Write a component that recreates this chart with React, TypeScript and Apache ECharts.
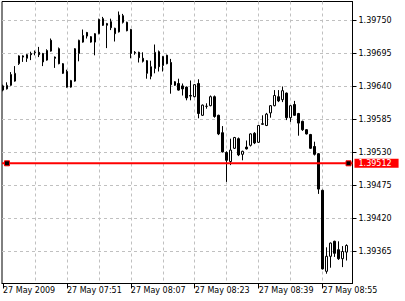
import React, { useEffect, useRef } from 'react';
import * as echarts from 'echarts';

// EURUSD-like M1 candles, 27 May 2009 07:35 .. 09:01 (one candle per minute)
const opens = [
  1.39641, 1.39636, 1.39642, 1.39649, 1.39678, 1.39691, 1.39687, 1.39695, 1.39696, 1.39697,
  1.39695, 1.39684, 1.39717, 1.39689, 1.39703, 1.39678, 1.39665, 1.39639, 1.39649, 1.39695,
  1.39714, 1.3973, 1.39723, 1.39714, 1.39728, 1.39753, 1.39742, 1.39748, 1.39737, 1.39731,
  1.39758, 1.39747, 1.39735, 1.39697, 1.39697, 1.39687, 1.39683, 1.39657, 1.3967, 1.39698,
  1.39675, 1.39692, 1.3968, 1.39642, 1.39645, 1.39641, 1.39639, 1.39625, 1.39623, 1.39645,
  1.39592, 1.39607, 1.39608, 1.39623, 1.39592, 1.39563, 1.3953, 1.39515, 1.39537, 1.39553,
  1.39527, 1.39539, 1.39542, 1.39562, 1.39547, 1.39577, 1.39575, 1.39596, 1.39608, 1.39623,
  1.39618, 1.39629, 1.39588, 1.3961, 1.39595, 1.39582, 1.39568, 1.3956, 1.3954, 1.39528,
  1.39467, 1.39332, 1.39357, 1.39382, 1.39368, 1.39353, 1.39364,
];
const highs = [
  1.39643, 1.39647, 1.39664, 1.39674, 1.39692, 1.39692, 1.39694, 1.39698, 1.397, 1.39706,
  1.39696, 1.39702, 1.3972, 1.3969, 1.39705, 1.39679, 1.39668, 1.39651, 1.39704, 1.39718,
  1.39735, 1.39731, 1.39724, 1.39729, 1.39753, 1.39756, 1.39746, 1.39753, 1.39738, 1.39765,
  1.39761, 1.39748, 1.39736, 1.39699, 1.39698, 1.39697, 1.39684, 1.39683, 1.3971, 1.397,
  1.39691, 1.39693, 1.39686, 1.39649, 1.39653, 1.39645, 1.3964, 1.3965, 1.39644, 1.39652,
  1.3961, 1.39612, 1.39625, 1.39625, 1.39593, 1.39574, 1.39532, 1.39553, 1.39556, 1.39555,
  1.39533, 1.3955, 1.39562, 1.39564, 1.39576, 1.39592, 1.39596, 1.39609, 1.39634, 1.39634,
  1.3964, 1.3963, 1.39609, 1.39616, 1.39596, 1.39583, 1.39569, 1.39561, 1.39548, 1.39529,
  1.39468, 1.39372, 1.3938, 1.39383, 1.39382, 1.39374, 1.39377,
];
const lows = [
  1.39632, 1.39635, 1.39641, 1.39648, 1.39676, 1.39681, 1.39681, 1.39684, 1.39692, 1.39689,
  1.39674, 1.39683, 1.39698, 1.39671, 1.39677, 1.39661, 1.39638, 1.39638, 1.39648, 1.39682,
  1.39713, 1.3972, 1.39713, 1.39692, 1.39727, 1.39741, 1.39704, 1.39734, 1.39715, 1.3973,
  1.39745, 1.39732, 1.39687, 1.39693, 1.3968, 1.3968, 1.39653, 1.39652, 1.39662, 1.39665,
  1.39665, 1.39677, 1.39628, 1.39641, 1.39633, 1.39625, 1.39617, 1.39617, 1.39622, 1.39587,
  1.39591, 1.39603, 1.39607, 1.39588, 1.39559, 1.3953, 1.39481, 1.39509, 1.39536, 1.39524,
  1.39517, 1.39535, 1.3954, 1.39544, 1.39546, 1.39576, 1.39574, 1.39588, 1.39607, 1.39614,
  1.39614, 1.39584, 1.39581, 1.39591, 1.39558, 1.39566, 1.3956, 1.39536, 1.39525, 1.39461,
  1.39335, 1.39328, 1.39338, 1.39356, 1.39351, 1.39339, 1.3935,
];
const closes = [
  1.39634, 1.39642, 1.3966, 1.39662, 1.39691, 1.39689, 1.39693, 1.39693, 1.39697, 1.39693,
  1.39681, 1.397, 1.39699, 1.39687, 1.39678, 1.39662, 1.39639, 1.3965, 1.39703, 1.39717,
  1.39725, 1.39724, 1.39714, 1.39728, 1.39752, 1.39742, 1.39745, 1.39738, 1.39728, 1.39759,
  1.39747, 1.39733, 1.39695, 1.39696, 1.39688, 1.39682, 1.39662, 1.39673, 1.39697, 1.39673,
  1.3969, 1.39678, 1.39643, 1.39648, 1.39634, 1.39636, 1.39621, 1.39624, 1.39643, 1.39595,
  1.39609, 1.39607, 1.39623, 1.3959, 1.39561, 1.39531, 1.39517, 1.39534, 1.39555, 1.39526,
  1.39532, 1.39536, 1.39561, 1.39546, 1.39575, 1.39578, 1.39594, 1.39608, 1.39625, 1.39616,
  1.39633, 1.39588, 1.39608, 1.39592, 1.39579, 1.39568, 1.39561, 1.39537, 1.39527, 1.39469,
  1.39336, 1.39357, 1.39379, 1.39362, 1.39353, 1.39365, 1.39375,
];

const priceTicks = [1.39365, 1.3942, 1.39475, 1.3953, 1.39585, 1.3964, 1.39695, 1.3975];
const priceMin = 1.3931167;
const priceMax = 1.3978167;

const timeTickIdx = [0, 16, 32, 48, 64, 80];
const timeLabels = ['27 May 2009', '27 May 07:51', '27 May 08:07', '27 May 08:23', '27 May 08:39', '27 May 08:55'];
const gridIdx = [8, 16, 24, 32, 40, 48, 56, 64, 72, 80];
const xMin = -0.25;
const xMax = 87.5;

const hLineLevel = 1.39512;
const hLineAnchors = [1, 86.5];

const FONT = 'DejaVu Sans';
const GRID_COLOR = '#c0c0c0';

export default function App() {
  const ref = useRef<HTMLDivElement>(null);

  useEffect(() => {
    if (!ref.current) return;
    const chart = echarts.init(ref.current, null, { renderer: 'svg' });
    const rows = opens.map((o, i) => [i, o, closes[i], lows[i], highs[i]]);

    chart.setOption({
      animation: false,
      backgroundColor: '#ffffff',
      grid: {
        left: 1.5,
        top: 1.5,
        right: 52.5,
        bottom: 17.5,
        show: true,
        borderColor: '#000',
        borderWidth: 1,
        backgroundColor: 'transparent',
      },
      xAxis: [
        {
          type: 'value',
          min: xMin,
          max: xMax,
          position: 'bottom',
          axisLine: { show: true, onZero: false, lineStyle: { color: '#000', width: 1 } },
          axisTick: { show: true, customValues: timeTickIdx, length: 5, lineStyle: { color: '#000', width: 1 } },
          axisLabel: {
            customValues: timeTickIdx,
            formatter: (v: number) => {
              const k = timeTickIdx.indexOf(v);
              return k >= 0 ? timeLabels[k] : '';
            },
            align: 'left',
            margin: 3,
            fontFamily: FONT,
            fontSize: 8,
            color: '#000',
          },
          splitLine: { show: false },
        },
        {
          type: 'value',
          min: xMin,
          max: xMax,
          position: 'bottom',
          axisLine: { show: false },
          axisTick: { show: false, customValues: gridIdx },
          axisLabel: { show: false, customValues: gridIdx },
          splitLine: { show: true, lineStyle: { color: GRID_COLOR, width: 1, type: [3, 3] } },
        },
      ],
      yAxis: {
        type: 'value',
        position: 'right',
        min: priceMin,
        max: priceMax,
        axisLine: { show: true, onZero: false, lineStyle: { color: '#000', width: 1 } },
        axisTick: { show: true, customValues: priceTicks, length: 4, lineStyle: { color: '#000', width: 1 } },
        axisLabel: {
          customValues: priceTicks,
          formatter: (v: number) => v.toFixed(5),
          margin: 6,
          fontFamily: FONT,
          fontSize: 8,
          color: '#000',
        },
        splitLine: { show: true, lineStyle: { color: GRID_COLOR, width: 1, type: [3, 3] } },
      },
      series: [
        {
          type: 'candlestick',
          data: rows,
          barWidth: 2,
          z: 2,
          itemStyle: {
            color: '#ffffff',
            color0: '#000000',
            borderColor: '#000000',
            borderColor0: '#000000',
            borderWidth: 1,
          },
        },
        {
          type: 'line',
          z: 4,
          silent: true,
          showSymbol: false,
          symbol: 'none',
          clip: false,
          data: [
            [xMin, hLineLevel],
            [xMax, hLineLevel],
          ],
          lineStyle: { color: '#ff0000', width: 2, type: 'solid' },
          endLabel: {
            show: true,
            formatter: () => hLineLevel.toFixed(5),
            distance: 2,
            backgroundColor: '#ff0000',
            color: '#ffffff',
            padding: [1, 7, 0, 4],
            fontFamily: FONT,
            fontSize: 8,
          },
          markPoint: {
            z: 8,
            silent: true,
            animation: false,
            symbol: 'rect',
            symbolSize: 5,
            data: hLineAnchors.map((x) => ({ coord: [x, hLineLevel] })),
            itemStyle: { color: '#000000', borderColor: '#ff0000', borderWidth: 1 },
            label: { show: false },
          },
        },
      ],
    });

    return () => chart.dispose();
  }, []);

  return (
    <div
      ref={ref}
      style={{ position: 'absolute', left: 0, top: 0, width: 405, height: 301 }}
    />
  );
}
